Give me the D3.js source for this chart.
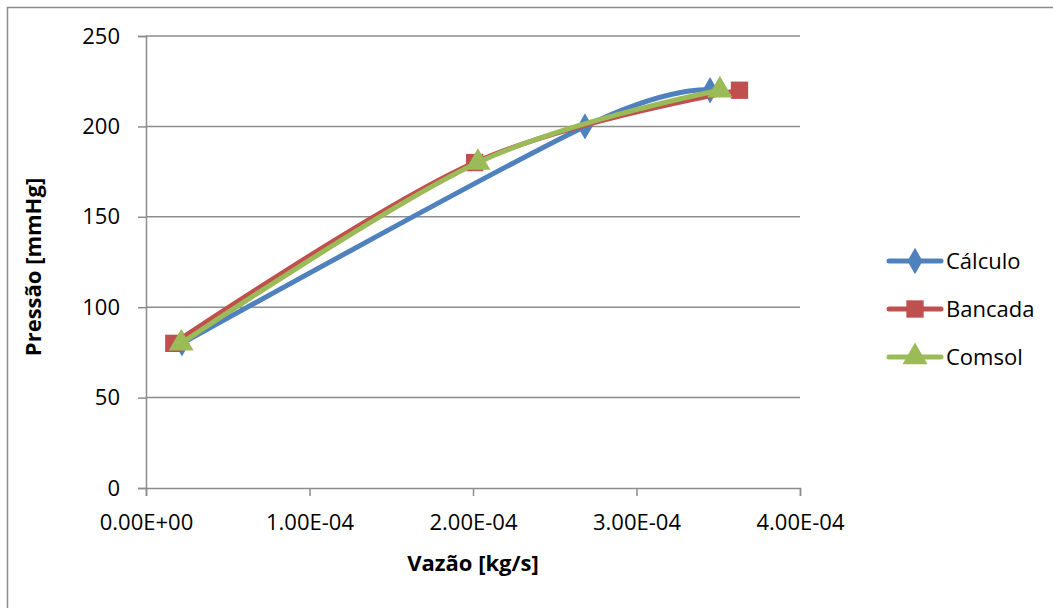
<!DOCTYPE html>
<html>
<head>
<meta charset="utf-8">
<script src="https://cdn.jsdelivr.net/npm/d3@7"></script>
<style>
  html, body { margin: 0; padding: 0; background: #fff; }
  svg { display: block; }
  text { font-family: "Open Sans", Lato, "Liberation Sans", sans-serif; fill: #000; }
</style>
</head>
<body>
<svg id="chart" width="1053" height="608"></svg>
<script>
// Flow rate (kg/s) versus pressure (mmHg) for three sources
const calculoX = [2.2e-5, 2.685e-4, 3.45e-4];
const calculoY = [80, 200, 220];
const bancadaX = [1.7e-5, 2.01e-4, 3.63e-4];
const bancadaY = [80, 180, 220];
const comsolX  = [2.15e-5, 2.03e-4, 3.51e-4];
const comsolY  = [80, 180, 220];

const seriesNames = ["Cálculo", "Bancada", "Comsol"];
const xTicks = [0, 1e-4, 2e-4, 3e-4, 4e-4];
const xTickLabels = ["0.00E+00", "1.00E-04", "2.00E-04", "3.00E-04", "4.00E-04"];
const yTicks = [0, 50, 100, 150, 200, 250];

const colors = ["#4F81BD", "#C0504D", "#9BBB59"];
const shapes = [d3.symbolDiamond, d3.symbolSquare, d3.symbolTriangle];
const shapeSizes = [200, 300, 270];

const series = seriesNames.map((name, i) => {
  const xs = [calculoX, bancadaX, comsolX][i];
  const ys = [calculoY, bancadaY, comsolY][i];
  return { name, color: colors[i], shape: shapes[i], size: shapeSizes[i],
           points: xs.map((x, j) => ({ x, y: ys[j] })) };
});

const svg = d3.select("#chart");
const plotLeft = 146, plotRight = 800, plotTop = 36, plotBottom = 488;
const fontFamily = "'Open Sans', Lato, sans-serif";
const fontSize = 22;

const x = d3.scaleLinear().domain([0, 4e-4]).range([plotLeft, plotRight]);
const y = d3.scaleLinear().domain([0, 250]).range([plotBottom, plotTop]);

// outer chart frame
svg.append("rect")
  .attr("x", 7.5).attr("y", 7.5)
  .attr("width", 1100).attr("height", 700)
  .attr("fill", "none").attr("stroke", "#8c8c8c").attr("stroke-width", 1.5);

const gridColor = "#8c8c8c";

// horizontal gridlines
svg.append("g")
  .selectAll("line")
  .data(yTicks.filter(d => d > 0))
  .join("line")
  .attr("x1", plotLeft).attr("x2", plotRight)
  .attr("y1", d => y(d)).attr("y2", d => y(d))
  .attr("stroke", gridColor).attr("stroke-width", 1.5);

// y axis
const yAxis = svg.append("g")
  .attr("transform", `translate(${plotLeft},0)`)
  .call(d3.axisLeft(y).tickValues(yTicks).tickSize(8).tickPadding(18));
yAxis.select(".domain").attr("stroke", gridColor).attr("stroke-width", 1.5);
yAxis.selectAll(".tick line").attr("stroke", gridColor).attr("stroke-width", 1.5);
yAxis.selectAll(".tick text").attr("font-size", fontSize).attr("font-family", fontFamily).attr("fill", "#000");

// x axis
const xAxis = svg.append("g")
  .attr("transform", `translate(0,${plotBottom})`)
  .call(d3.axisBottom(x).tickValues(xTicks).tickFormat((d, i) => xTickLabels[i]).tickSize(8).tickPadding(18));
xAxis.select(".domain").attr("stroke", gridColor).attr("stroke-width", 1.5);
xAxis.selectAll(".tick line").attr("stroke", gridColor).attr("stroke-width", 1.5);
xAxis.selectAll(".tick text").attr("font-size", fontSize).attr("font-family", fontFamily).attr("fill", "#000");

// axis titles
svg.append("text")
  .attr("x", (plotLeft + plotRight) / 2).attr("y", 571)
  .attr("text-anchor", "middle")
  .attr("font-size", fontSize).attr("font-weight", "bold")
  .text("Vazão [kg/s]");

svg.append("text")
  .attr("transform", `translate(41,267) rotate(-90)`)
  .attr("text-anchor", "middle")
  .attr("font-size", fontSize).attr("font-weight", "bold")
  .text("Pressão [mmHg]");

// smoothed series lines with markers
const line = d3.line()
  .x(d => x(d.x)).y(d => y(d.y))
  .curve(d3.curveCardinal.tension(0));

series.forEach(s => {
  const g = svg.append("g");
  g.append("path")
    .attr("d", line(s.points))
    .attr("fill", "none")
    .attr("stroke", s.color).attr("stroke-width", 5)
    .attr("stroke-linejoin", "round").attr("stroke-linecap", "round");
  g.selectAll("path.marker")
    .data(s.points)
    .join("path")
    .attr("class", "marker")
    .attr("transform", d => `translate(${x(d.x)},${y(d.y)})`)
    .attr("d", d3.symbol().type(s.shape).size(s.size))
    .attr("fill", s.color);
});

// legend
const legend = svg.append("g");
series.forEach((s, i) => {
  const ly = 261 + i * 48;
  legend.append("line")
    .attr("x1", 889).attr("x2", 941)
    .attr("y1", ly).attr("y2", ly)
    .attr("stroke", s.color).attr("stroke-width", 5)
    .attr("stroke-linecap", "round");
  legend.append("path")
    .attr("transform", `translate(915,${ly})`)
    .attr("d", d3.symbol().type(s.shape).size(s.size))
    .attr("fill", s.color);
  legend.append("text")
    .attr("x", 946).attr("y", ly)
    .attr("dy", "0.35em")
    .attr("font-size", fontSize)
    .text(s.name);
});
</script>
</body>
</html>
